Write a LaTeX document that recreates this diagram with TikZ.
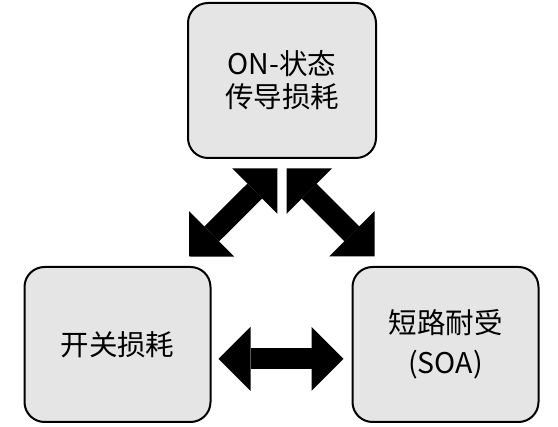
\documentclass[tikz,border=0pt]{standalone}
\usepackage{fontspec}
\setmainfont{Noto Sans CJK SC}
\usepackage{tikz}
\usetikzlibrary{positioning,calc,arrows.meta}

\begin{document}
\begin{tikzpicture}[x=1pt,y=-1pt,
  box/.style={draw,line width=2pt,rounded corners=20pt,fill=black!10,
    minimum width=186pt,minimum height=155pt,inner sep=0pt,align=center,
    font=\fontsize{28.5}{33}\selectfont},
  bigarrow/.style={line width=21pt,>={Triangle[length=32pt,width=64pt,line width=0pt 0 0]},<->}]
\useasboundingbox (0,0) rectangle (558,427);
% Three loss boxes
\node[box,minimum width=188pt] (cond) at (282,80.5) {ON-状态\\传导损耗};
\node[box] (sw) at (117.5,344.5) {开关损耗};
\node[box] (soa) at (445.5,344.5) {短路耐受\\[7pt](SOA)};
% Double arrows between them
\draw[bigarrow] ([shift={(-4.5,9.5)}]cond.south) -- ([shift={(-22.5,-9.5)}]sw.north east);
\draw[bigarrow] ([shift={(4.5,9.5)}]cond.south) -- ([shift={(23,-9.5)}]soa.north west);
\draw[bigarrow] ([shift={(7,14.5)}]sw.east) -- ([shift={(-8,14.5)}]soa.west);
\end{tikzpicture}
\end{document}
